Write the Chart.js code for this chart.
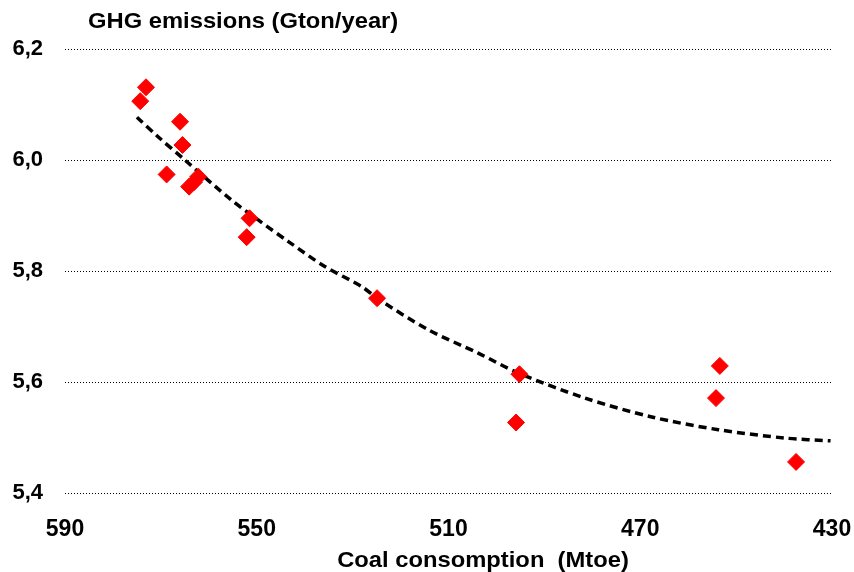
<!DOCTYPE html>
<html>
<head>
<meta charset="utf-8">
<script src="https://cdn.jsdelivr.net/npm/chart.js@4/dist/chart.umd.min.js"></script>
<style>
    html, body { margin: 0; padding: 0; background: #fff; }
    #wrap { width: 854px; height: 572px; }
</style>
</head>
<body>
<div id="wrap"><canvas id="ghgChart"></canvas></div>
<script>
// Observed points: coal consumption (Mtoe) vs GHG emissions (Gton/year)
const coalValues = [574.3, 573.1, 566.0, 565.5, 568.8, 564.1, 563.1, 562.2, 551.5, 552.1, 524.9, 495.2, 495.9, 453.4, 454.2, 437.5];
const ghgValues = [6.106, 6.131, 6.069, 6.027, 5.974, 5.952, 5.960, 5.970, 5.895, 5.861, 5.751, 5.614, 5.527, 5.629, 5.571, 5.456];

// Trend curve
const trendCoal = [575.0, 570.6, 565.0, 555.3, 549.7, 543.4, 535.8, 528.1, 524.9, 514.2, 503.8, 495.4, 481.5, 467.6, 453.7, 439.8, 430.3];
const trendGhg = [6.077, 6.042, 6.000, 5.928, 5.892, 5.853, 5.808, 5.772, 5.751, 5.694, 5.652, 5.616, 5.571, 5.537, 5.514, 5.499, 5.494];

const xTicks = [590, 550, 510, 470, 430];
const yTicks = [5.4, 5.6, 5.8, 6.0, 6.2];

const yTitle = 'GHG emissions (Gton/year)';
const xTitle = 'Coal consomption  (Mtoe)';

const FONT = '"Liberation Sans", Arial, sans-serif';

// draws both axis titles where the original puts them (slightly wide lettering)
const titlesPlugin = {
    id: 'axisTitles',
    afterDraw(chart) {
        const ctx = chart.ctx;
        ctx.save();
        ctx.fillStyle = '#000';
        ctx.font = 'bold 22px ' + FONT;
        ctx.textBaseline = 'middle';
        ctx.scale(1.08, 1);
        ctx.textAlign = 'left';
        ctx.fillText(yTitle, 88 / 1.08, 22);
        ctx.textAlign = 'center';
        ctx.fillText(xTitle, 483 / 1.08, 561);
        ctx.restore();
    }
};

const points = coalValues.map((x, i) => ({ x: x, y: ghgValues[i] }));
const trend = trendCoal.map((x, i) => ({ x: x, y: trendGhg[i] }));

new Chart(document.getElementById('ghgChart').getContext('2d'), {
    type: 'scatter',
    data: {
        datasets: [{
            label: 'Trend',
            data: trend,
            showLine: true,
            borderColor: '#000',
            borderWidth: 3.5,
            borderDash: [8, 5],
            pointRadius: 0,
            tension: 0.3,
            order: 2
        }, {
            label: 'GHG',
            data: points,
            pointStyle: 'rectRot',
            pointRadius: 8.5,
            pointBackgroundColor: '#ff0000',
            pointBorderColor: '#ff0000',
            pointBorderWidth: 1,
            order: 1
        }]
    },
    options: {
        responsive: true,
        maintainAspectRatio: false,
        animation: false,
        layout: {
            padding: { top: 49, right: 22, bottom: 0, left: 0 }
        },
        plugins: {
            legend: { display: false },
            tooltip: { enabled: false }
        },
        scales: {
            x: {
                type: 'linear',
                reverse: true,
                min: 430,
                max: 590,
                afterFit: function(scale) {
                    scale.height = 79;
                    scale.paddingLeft = 0;
                    scale.paddingRight = 0;
                },
                afterBuildTicks: function(scale) {
                    scale.ticks = xTicks.map(v => ({ value: v }));
                },
                grid: { display: false, drawTicks: false },
                border: { display: false },
                ticks: {
                    color: '#000',
                    padding: 23,
                    maxRotation: 0,
                    font: { family: FONT, size: 23, weight: 'bold' }
                }
            },
            y: {
                min: 5.4,
                max: 6.2,
                afterFit: function(scale) { scale.width = 65; },
                afterBuildTicks: function(scale) {
                    scale.ticks = yTicks.map(v => ({ value: v }));
                },
                grid: {
                    drawTicks: false,
                    color: '#000',
                    lineWidth: 1
                },
                border: { display: false, dash: [1, 2] },
                ticks: {
                    color: '#000',
                    padding: 22,
                    font: { family: FONT, size: 22, weight: 'bold' },
                    callback: function(value) {
                        return value.toFixed(1).replace('.', ',');
                    }
                }
            }
        }
    },
    plugins: [titlesPlugin]
});
</script>
</body>
</html>
